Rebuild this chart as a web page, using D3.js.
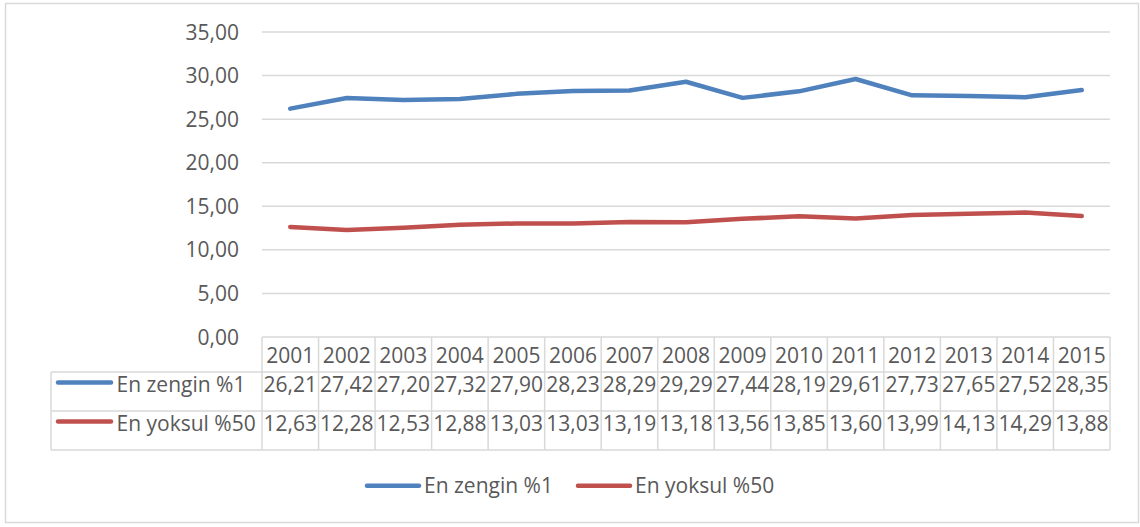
<!DOCTYPE html>
<html><head><meta charset="utf-8">
<script src="https://cdn.jsdelivr.net/npm/d3@7/dist/d3.min.js"></script>
<style>body{margin:0;background:#fff}svg{display:block}text{font-family:"Open Sans",sans-serif;fill:#595959}</style>
</head><body><svg id="c" width="1140" height="527"></svg>
<script>
const years = ["2001","2002","2003","2004","2005","2006","2007","2008","2009","2010","2011","2012","2013","2014","2015"];
const zengin = [26.21,27.42,27.20,27.32,27.90,28.23,28.29,29.29,27.44,28.19,29.61,27.73,27.65,27.52,28.35];
const yoksul = [12.63,12.28,12.53,12.88,13.03,13.03,13.19,13.18,13.56,13.85,13.60,13.99,14.13,14.29,13.88];
const seriesNames = ["En zengin %1","En yoksul %50"];
const yTicks = [0,5,10,15,20,25,30,35];
const colors = ["#4F81BD","#C0504D"];

const fmt = v => v.toFixed(2).replace(".", ",");
const svg = d3.select("#c");
const fs = "21px";
const grid = "#D9D9D9";

// outer border
svg.append("rect").attr("x",5.5).attr("y",3.5).attr("width",1133).attr("height",519)
  .attr("fill","none").attr("stroke",grid).attr("stroke-width",1.5);

const x = d3.scaleBand().domain(years).range([262,1110]);
const y = d3.scaleLinear().domain([0,35]).range([337,32]);

// gridlines
svg.append("g").selectAll("line").data(yTicks.filter(t=>t>0)).join("line")
  .attr("x1",262).attr("x2",1110).attr("y1",d=>y(d)).attr("y2",d=>y(d))
  .attr("stroke",grid).attr("stroke-width",1.5);

// y labels
svg.append("g").selectAll("text").data(yTicks).join("text")
  .attr("x",239).attr("y",d=>y(d)+7.5).attr("text-anchor","end")
  .style("font-size",fs).text(fmt);

// lines
const line = d3.line().x((d,i)=>x(years[i])+x.bandwidth()/2).y(d=>y(d));
[zengin,yoksul].forEach((s,k)=>{
  svg.append("path").datum(s).attr("d",line).attr("fill","none")
    .attr("stroke",colors[k]).attr("stroke-width",4.5)
    .attr("stroke-linejoin","round").attr("stroke-linecap","round");
});

// data table
const rowTop = [337,372,411,450];
const tg = svg.append("g").attr("stroke",grid).attr("stroke-width",1.5);
tg.append("line").attr("x1",262).attr("x2",1110).attr("y1",rowTop[0]).attr("y2",rowTop[0]);
rowTop.slice(1).forEach(r=>tg.append("line").attr("x1",51).attr("x2",1110).attr("y1",r).attr("y2",r));
tg.append("line").attr("x1",51).attr("x2",51).attr("y1",rowTop[1]).attr("y2",rowTop[3]);
const edges = years.map(d=>x(d)).concat([1110]);
tg.selectAll(".v").data(edges).join("line").attr("class","v")
  .attr("x1",d=>d).attr("x2",d=>d).attr("y1",rowTop[0]).attr("y2",rowTop[3]);

svg.append("g").selectAll("text").data(years).join("text")
  .attr("x",d=>x(d)+x.bandwidth()/2).attr("y",rowTop[0]+25.7).attr("text-anchor","middle")
  .style("font-size",fs).text(d=>d);

[zengin,yoksul].forEach((s,k)=>{
  const top = rowTop[k+1];
  svg.append("g").selectAll("text").data(s).join("text")
    .attr("x",(d,i)=>x(years[i])+x.bandwidth()/2).attr("y",top+19.5).attr("text-anchor","middle")
    .style("font-size",fs).text(fmt);
  svg.append("line").attr("x1",58).attr("x2",111).attr("y1",top+10.5).attr("y2",top+10.5)
    .attr("stroke",colors[k]).attr("stroke-width",4.5).attr("stroke-linecap","round");
  svg.append("text").attr("x",116.5).attr("y",top+19.5).style("font-size",fs).text(seriesNames[k]);
});

// bottom legend
const leg = [{x1:367,x2:419,tx:424},{x1:578,x2:630,tx:635}];
leg.forEach((l,k)=>{
  svg.append("line").attr("x1",l.x1).attr("x2",l.x2).attr("y1",485.7).attr("y2",485.7)
    .attr("stroke",colors[k]).attr("stroke-width",4.5).attr("stroke-linecap","round");
  svg.append("text").attr("x",l.tx).attr("y",493.3).style("font-size",fs).text(seriesNames[k]);
});
</script></body></html>
